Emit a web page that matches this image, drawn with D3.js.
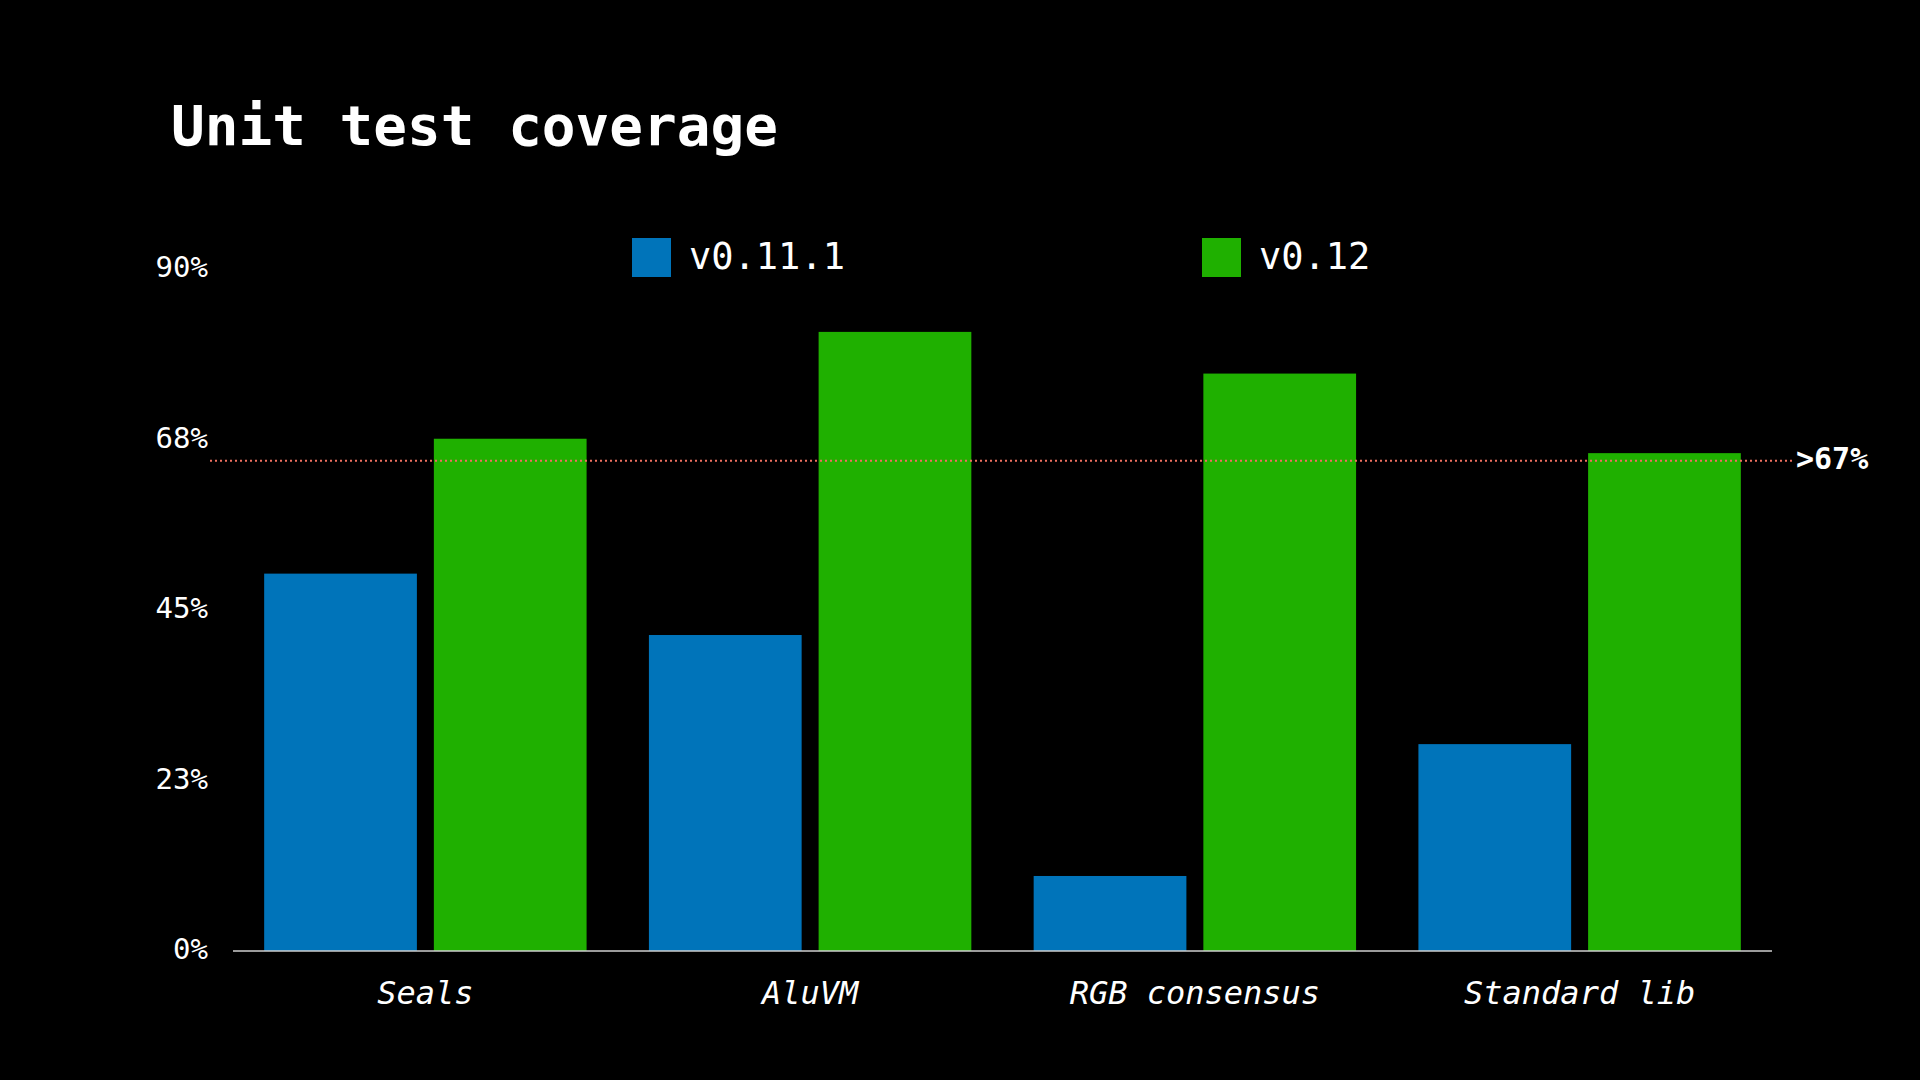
<!DOCTYPE html>
<html>
<head>
<meta charset="utf-8">
<script src="https://cdn.jsdelivr.net/npm/d3@7"></script>
<style>
  body { margin: 0; background: #000; }
  text { font-family: "DejaVu Sans Mono", "Liberation Mono", monospace; fill: #fff; }
</style>
</head>
<body>
<svg id="chart" width="1920" height="1080"></svg>
<script>
const categories = ["Seals", "AluVM", "RGB consensus", "Standard lib"];
const seriesNames = ["v0.11.1", "v0.12"];
const oldCoverage = [49.8, 41.7, 9.9, 27.3];
const newCoverage = [67.6, 81.7, 76.2, 65.7];
const tickValues = [0, 22.5, 45, 67.5, 90];
const tickLabels = ["0%", "23%", "45%", "68%", "90%"];
const thresholdValue = 64.7;
const thresholdLabel = ">67%";

const colors = ["#0074BA", "#1FB000"];
const svg = d3.select("#chart");
svg.append("rect").attr("width", 1920).attr("height", 1080).attr("fill", "#000");

svg.append("text")
  .attr("x", 171).attr("y", 145)
  .attr("font-size", 56).attr("font-weight", "bold")
  .text("Unit test coverage");

const x0 = d3.scaleBand().domain(categories).range([233, 1772])
  .paddingInner(0.162).paddingOuter(0.081);
const x1 = d3.scaleBand().domain(seriesNames).range([0, x0.bandwidth()]).paddingInner(0.1);
const y = d3.scaleLinear().domain([0, 90]).range([951, 269]);

const rows = categories.map((c, i) => ({ cat: c, values: [oldCoverage[i], newCoverage[i]] }));

svg.selectAll("g.group")
  .data(rows)
  .join("g")
  .attr("class", "group")
  .attr("transform", d => `translate(${x0(d.cat)},0)`)
  .selectAll("rect")
  .data(d => d.values.map((v, j) => ({ name: seriesNames[j], v, j })))
  .join("rect")
  .attr("x", d => x1(d.name))
  .attr("width", x1.bandwidth())
  .attr("y", d => y(d.v))
  .attr("height", d => y(0) - y(d.v))
  .attr("fill", d => colors[d.j]);

// baseline
svg.append("line")
  .attr("x1", 233).attr("x2", 1772).attr("y1", y(0)).attr("y2", y(0))
  .attr("stroke", "#cfcfcf").attr("stroke-width", 1.5);

// y tick labels
svg.selectAll("text.ytick")
  .data(tickValues)
  .join("text")
  .attr("class", "ytick")
  .attr("x", 208).attr("y", d => y(d))
  .attr("text-anchor", "end").attr("dominant-baseline", "middle")
  .attr("font-size", 29)
  .text((d, i) => tickLabels[i]);

// x labels
svg.selectAll("text.xlab")
  .data(categories)
  .join("text")
  .attr("class", "xlab")
  .attr("x", d => x0(d) + x0.bandwidth() / 2)
  .attr("y", 1004)
  .attr("text-anchor", "middle")
  .attr("font-size", 32).attr("font-style", "italic")
  .text(d => d);

// threshold
svg.append("line")
  .attr("x1", 210).attr("x2", 1794).attr("y1", y(thresholdValue)).attr("y2", y(thresholdValue))
  .attr("stroke", "#F07060").attr("stroke-width", 2).attr("stroke-dasharray", "2,3");
svg.append("text")
  .attr("x", 1796).attr("y", y(thresholdValue))
  .attr("dominant-baseline", "middle")
  .attr("font-size", 30).attr("font-weight", "bold")
  .text(thresholdLabel);

// legend
const legendX = [632, 1202];
seriesNames.forEach((n, i) => {
  svg.append("rect").attr("x", legendX[i]).attr("y", 238).attr("width", 39).attr("height", 39)
    .attr("fill", colors[i]);
  svg.append("text").attr("x", legendX[i] + 57).attr("y", 258)
    .attr("dominant-baseline", "middle").attr("font-size", 37)
    .text(n);
});
</script>
</body>
</html>
